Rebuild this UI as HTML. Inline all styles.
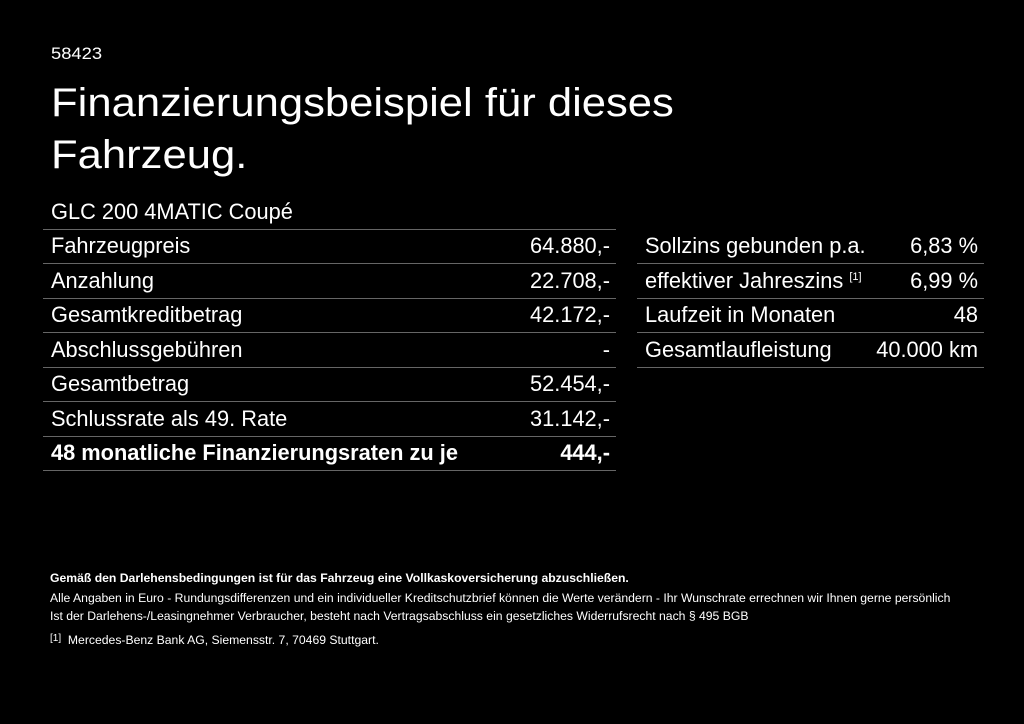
<!DOCTYPE html>
<html><head><meta charset="utf-8"><style>
body{margin:0;background:#000;width:1024px;height:724px;overflow:hidden;font-family:"Liberation Sans",sans-serif;color:#fff;position:relative}
.a{position:absolute;white-space:nowrap}
.row{position:absolute;height:34px;border-bottom:1px solid #666;font-size:21.8px;line-height:34px}
.row span{position:absolute;top:0}
.r{right:6px}
.l{left:8px}
.row span.s{font-size:11px;position:relative;top:-8px}
.f{font-size:12.2px;left:50px}
</style></head><body>
<div class="a" style="left:51px;top:44px;font-size:17px;transform:scaleX(1.08);transform-origin:left">58423</div>
<div class="a" style="left:51px;top:77px;font-size:40px;line-height:52px;transform:scaleX(1.09);transform-origin:left">Finanzierungsbeispiel für dieses<br>Fahrzeug.</div>
<div class="row" style="left:43px;top:195px;width:573px"><span class="l">GLC 200 4MATIC Coupé</span></div>
<div class="row" style="left:43px;top:229px;width:573px"><span class="l">Fahrzeugpreis</span><span class="r">64.880,-</span></div>
<div class="row" style="left:43px;top:264px;width:573px"><span class="l">Anzahlung</span><span class="r">22.708,-</span></div>
<div class="row" style="left:43px;top:298px;width:573px"><span class="l">Gesamtkreditbetrag</span><span class="r">42.172,-</span></div>
<div class="row" style="left:43px;top:333px;width:573px"><span class="l">Abschlussgebühren</span><span class="r">-</span></div>
<div class="row" style="left:43px;top:367px;width:573px"><span class="l">Gesamtbetrag</span><span class="r">52.454,-</span></div>
<div class="row" style="left:43px;top:402px;width:573px"><span class="l">Schlussrate als 49. Rate</span><span class="r">31.142,-</span></div>
<div class="row" style="left:43px;top:436px;width:573px;font-weight:bold"><span class="l">48 monatliche Finanzierungsraten zu je</span><span class="r">444,-</span></div>
<div class="row" style="left:637px;top:229px;width:347px"><span class="l">Sollzins gebunden p.a.</span><span class="r">6,83 %</span></div>
<div class="row" style="left:637px;top:264px;width:347px"><span class="l">effektiver Jahreszins <span class="s">[1]</span></span><span class="r">6,99 %</span></div>
<div class="row" style="left:637px;top:298px;width:347px"><span class="l">Laufzeit in Monaten</span><span class="r">48</span></div>
<div class="row" style="left:637px;top:333px;width:347px"><span class="l">Gesamtlaufleistung</span><span class="r">40.000 km</span></div>
<div class="a f" style="top:571px;font-weight:bold">Gemäß den Darlehensbedingungen ist für das Fahrzeug eine Vollkaskoversicherung abzuschließen.</div>
<div class="a f" style="top:591px">Alle Angaben in Euro - Rundungsdifferenzen und ein individueller Kreditschutzbrief können die Werte verändern - Ihr Wunschrate errechnen wir Ihnen gerne persönlich</div>
<div class="a f" style="top:609px">Ist der Darlehens-/Leasingnehmer Verbraucher, besteht nach Vertragsabschluss ein gesetzliches Widerrufsrecht nach § 495 BGB</div>
<div class="a f" style="top:633px"><span style="font-size:10px;position:relative;top:-3px">[1]</span>&nbsp; Mercedes-Benz Bank AG, Siemensstr. 7, 70469 Stuttgart.</div>
</body></html>
